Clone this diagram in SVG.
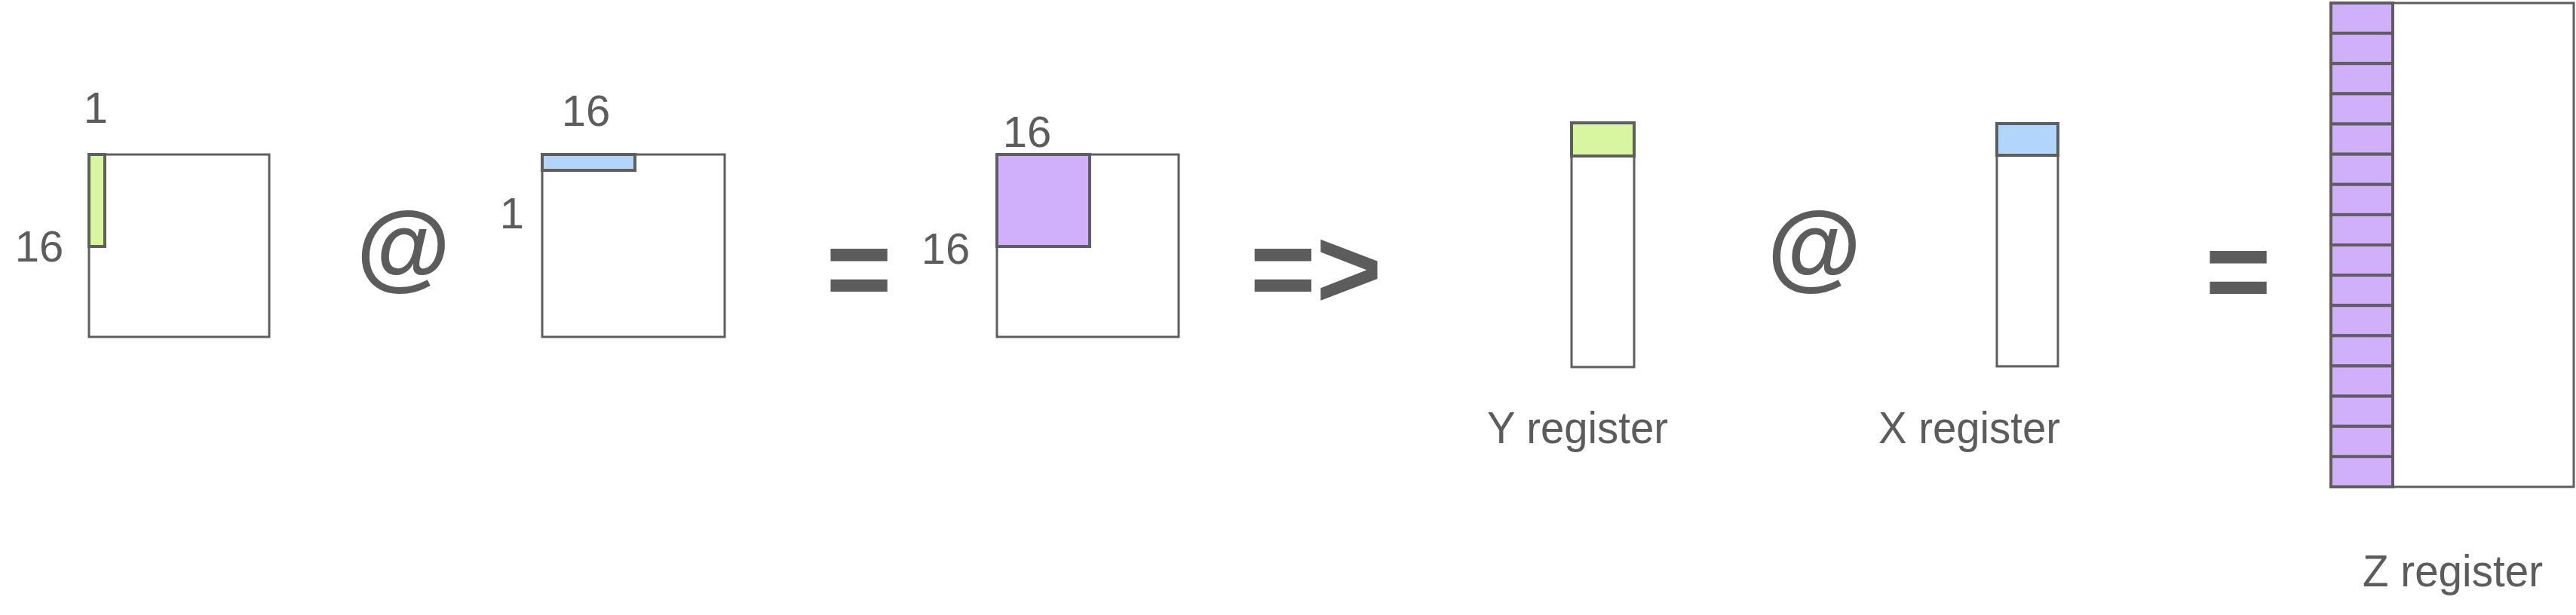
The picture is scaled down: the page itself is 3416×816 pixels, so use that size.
<svg xmlns="http://www.w3.org/2000/svg" width="3416" height="816" viewBox="0 0 3416 816">
<style>
.box{fill:#ffffff;stroke:#5e5e5e;stroke-width:3}
.strip{stroke:#5e5e5e;stroke-width:4}
.green{fill:#d8f5a2}
.blue{fill:#b1d5fb}
.purple{fill:#d0b0fa}
.num{font-family:"Liberation Sans",Arial,sans-serif;font-size:58px;fill:#5c5c5c;text-anchor:middle}
.lbl{font-family:"Liberation Sans",Arial,sans-serif;font-size:60px;fill:#5c5c5c}
.op{font-family:"Liberation Sans",Arial,sans-serif;font-weight:bold;fill:#5c5c5c;text-anchor:middle}
</style>
<rect width="3416" height="816" fill="#ffffff"/>

<g id="matrix-a">
  <rect class="box" x="118" y="205" width="239" height="242"/>
  <rect class="strip green" x="118" y="205" width="21" height="122"/>
  <text class="num" x="127" y="163">1</text>
  <text class="num" x="52" y="347">16</text>
</g>

<g id="op-matmul-1">
  <text class="op" x="535" y="370" font-size="128">@</text>
</g>

<g id="matrix-b">
  <rect class="box" x="719" y="205" width="242" height="242"/>
  <rect class="strip blue" x="719" y="205" width="123" height="21"/>
  <text class="num" x="679" y="303">1</text>
  <text class="num" x="777" y="167">16</text>
</g>

<g id="op-equals-1">
  <text class="op" x="1139" y="408" font-size="150">=</text>
</g>

<g id="matrix-c">
  <rect class="box" x="1322" y="205" width="241" height="242"/>
  <rect class="strip purple" x="1322" y="205" width="123" height="122"/>
  <text class="num" x="1362" y="195">16</text>
  <text class="num" x="1254" y="350">16</text>
</g>

<g id="op-implies">
  <text class="op" x="1745" y="408" font-size="150">=&gt;</text>
</g>

<g id="y-register">
  <rect class="box" x="2084" y="163" width="83" height="324"/>
  <rect class="strip green" x="2084" y="163" width="83" height="44"/>
  <text class="lbl" x="1972" y="588" textLength="240" lengthAdjust="spacingAndGlyphs">Y register</text>
</g>

<g id="op-matmul-2">
  <text class="op" x="2406" y="370" font-size="128">@</text>
</g>

<g id="x-register">
  <rect class="box" x="2648" y="164" width="81" height="322"/>
  <rect class="strip blue" x="2648" y="164" width="81" height="42"/>
  <text class="lbl" x="2491" y="588" textLength="241" lengthAdjust="spacingAndGlyphs">X register</text>
</g>

<g id="op-equals-2">
  <text class="op" x="2968" y="411" font-size="150">=</text>
</g>

<g id="z-register">
  <rect class="box" x="3091" y="4" width="322" height="642"/>
  <g class="strip purple">
    <rect x="3091" y="4" width="82" height="40.125"/>
    <rect x="3091" y="44.125" width="82" height="40.125"/>
    <rect x="3091" y="84.25" width="82" height="40.125"/>
    <rect x="3091" y="124.375" width="82" height="40.125"/>
    <rect x="3091" y="164.5" width="82" height="40.125"/>
    <rect x="3091" y="204.625" width="82" height="40.125"/>
    <rect x="3091" y="244.75" width="82" height="40.125"/>
    <rect x="3091" y="284.875" width="82" height="40.125"/>
    <rect x="3091" y="325" width="82" height="40.125"/>
    <rect x="3091" y="365.125" width="82" height="40.125"/>
    <rect x="3091" y="405.25" width="82" height="40.125"/>
    <rect x="3091" y="445.375" width="82" height="40.125"/>
    <rect x="3091" y="485.5" width="82" height="40.125"/>
    <rect x="3091" y="525.625" width="82" height="40.125"/>
    <rect x="3091" y="565.75" width="82" height="40.125"/>
    <rect x="3091" y="605.875" width="82" height="40.125"/>
  </g>
  <text class="lbl" x="3133" y="778" textLength="239" lengthAdjust="spacingAndGlyphs">Z register</text>
</g>

<g id="connectors"></g>
</svg>
